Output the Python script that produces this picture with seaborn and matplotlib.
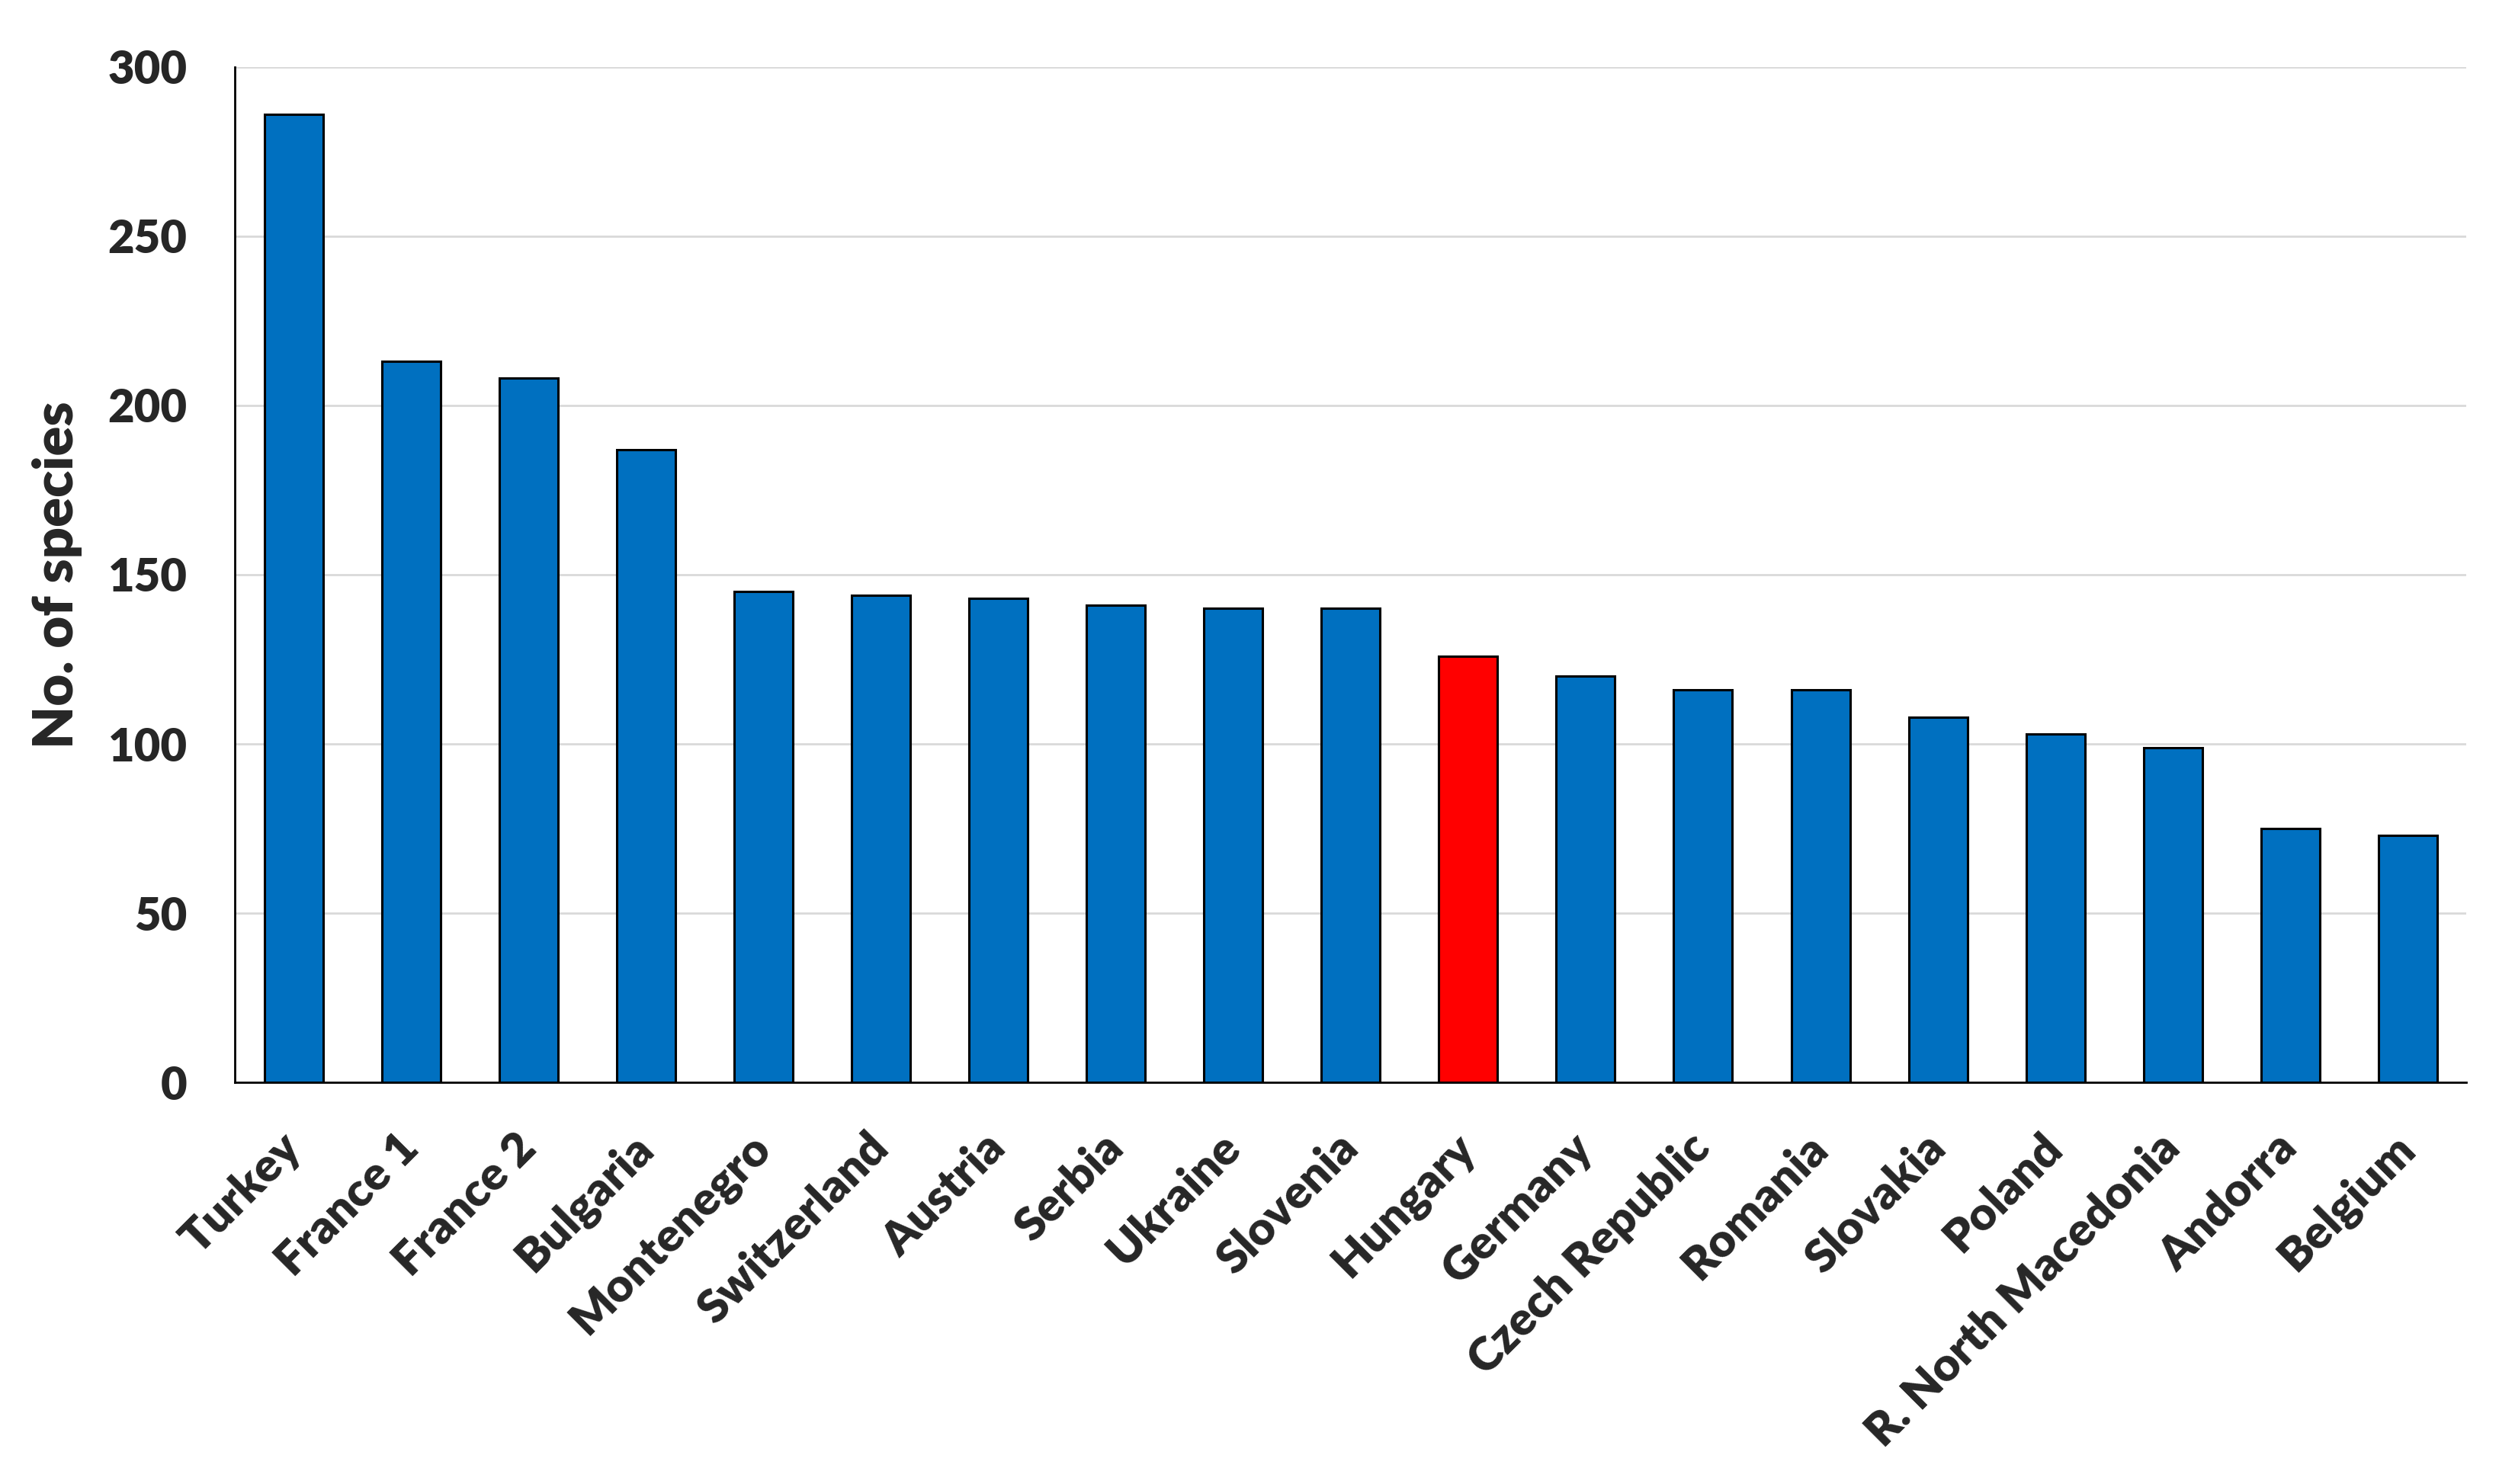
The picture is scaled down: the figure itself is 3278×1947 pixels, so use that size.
import numpy as np
import pandas as pd
import seaborn as sns
import matplotlib.pyplot as plt

# data
countries = ['Turkey', 'France 1', 'France 2', 'Bulgaria', 'Montenegro',
             'Switzerland', 'Austria', 'Serbia', 'Ukraine', 'Slovenia',
             'Hungary', 'Germany', 'Czech Republic', 'Romania', 'Slovakia',
             'Poland', 'R. North Macedonia', 'Andorra', 'Belgium']
species = [286, 213, 208, 187, 145,
           144, 143, 141, 140, 140,
           126, 120, 116, 116, 108,
           103, 99, 75, 73]
highlight = 'Hungary'

blue = '#0070C0'
red = '#FF0000'

df = pd.DataFrame({'country': countries, 'species': species})
palette = {c: (red if c == highlight else blue) for c in countries}

sns.set_style('white')
plt.rcParams['font.family'] = ['Lato', 'DejaVu Sans']
plt.rcParams['font.weight'] = 'heavy'

fig = plt.figure(figsize=(32.78, 19.47), dpi=100)
ax = fig.add_axes([0.094, 0.2705, 0.893, 0.6845])

sns.barplot(data=df, x='country', y='species', hue='country', palette=palette,
            legend=False, width=0.5, edgecolor='black', linewidth=2.2,
            saturation=1, ax=ax)

ax.set_ylim(0, 300)
ax.set_xlim(-0.5, len(countries) - 0.5)
ax.set_yticks(np.arange(0, 301, 50))
ax.yaxis.grid(True, color='#d9d9d9', linewidth=2)
ax.set_axisbelow(True)

for side in ['top', 'right']:
    ax.spines[side].set_visible(False)
for side in ['left', 'bottom']:
    ax.spines[side].set_color('black')
    ax.spines[side].set_linewidth(2)

ax.tick_params(axis='y', length=0, pad=45, labelsize=43)
ax.tick_params(axis='x', length=0, pad=55, labelsize=44)
plt.setp(ax.get_xticklabels(), rotation=45, ha='right', va='center',
         rotation_mode='anchor', fontweight='heavy')
plt.setp(ax.get_yticklabels(), fontweight='heavy')

ax.set_xlabel('')
ax.set_ylabel('No. of species', fontsize=52, fontweight='heavy', labelpad=24)

fig.savefig('out.png', dpi=100)
